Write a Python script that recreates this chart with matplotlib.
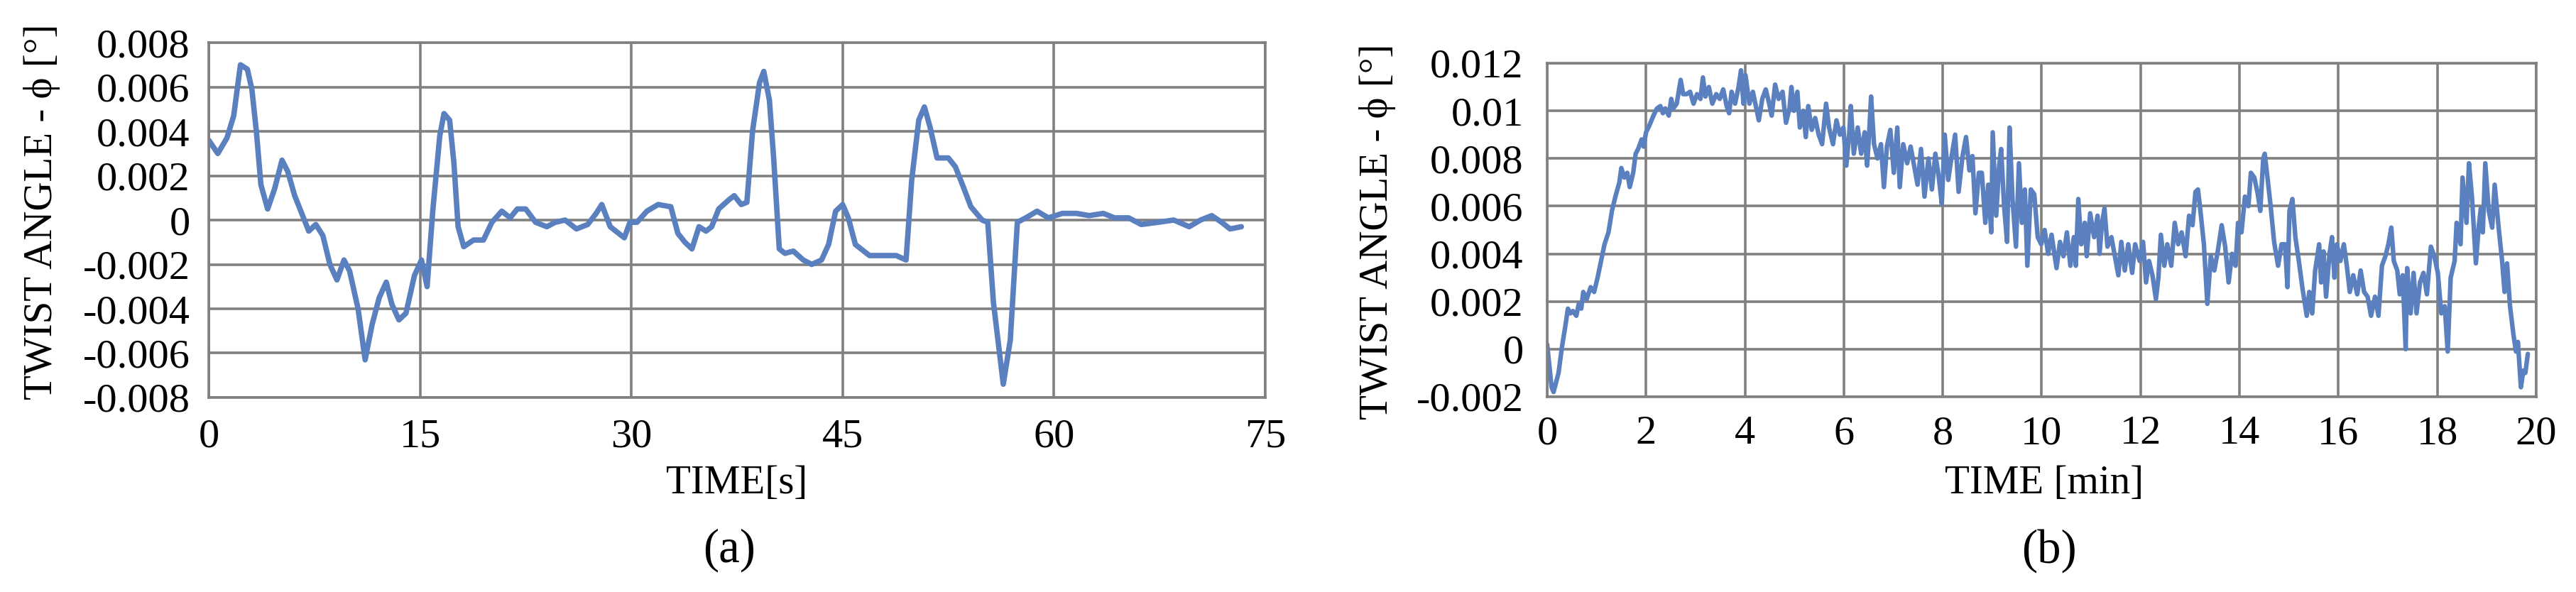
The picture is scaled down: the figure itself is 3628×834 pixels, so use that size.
import numpy as np
import matplotlib.pyplot as plt
import matplotlib

matplotlib.rcParams['font.family'] = ['Liberation Serif', 'DejaVu Serif']

# (a) twist angle vs time [s]
time_a = [0, 0.64, 1.29, 1.77, 2.25, 2.74, 3.06, 3.38, 3.7, 4.18, 4.67, 5.2, 5.6,
          6.1, 6.6, 7.1, 7.6, 8.1, 8.6, 9.1, 9.6, 10.0, 10.6, 11.1, 11.6, 12.1,
          12.6, 13.0, 13.5, 14.0, 14.6, 15.1, 15.5, 15.9, 16.4, 16.7, 17.1, 17.4,
          17.7, 18.1, 18.8, 19.5, 20.1, 20.8, 21.4, 21.9, 22.5, 23.2, 24.0, 24.6,
          25.3, 26.1, 26.9, 27.5, 27.9, 28.5, 29.5, 29.9, 30.4, 31.1, 31.9, 32.8,
          33.3, 33.8, 34.3, 34.8, 35.3, 35.7, 36.2, 36.9, 37.3, 37.8, 38.2, 38.6,
          39.1, 39.4, 39.8, 40.1, 40.5, 40.9, 41.5, 42.2, 42.8, 43.5, 44.0, 44.5,
          45.0, 45.4, 45.9, 46.9, 48.0, 48.8, 49.5, 49.9, 50.4, 50.8, 51.2, 51.7,
          52.5, 53.0, 53.5, 54.1, 54.9, 55.3, 55.7, 56.4, 56.9, 57.4, 58.0, 58.8,
          59.6, 60.6, 61.6, 62.5, 63.5, 64.3, 65.3, 66.2, 67.4, 68.5, 69.6, 70.4,
          71.2, 71.9, 72.5, 73.3]
twist_a = [0.0036, 0.0030, 0.0037, 0.0047, 0.0070, 0.0068, 0.0059, 0.0040, 0.0016,
           0.0005, 0.0014, 0.0027, 0.0022, 0.0011, 0.0003, -0.0005, -0.0002,
           -0.0007, -0.0020, -0.0027, -0.0018, -0.0023, -0.0040, -0.0063, -0.0047,
           -0.0035, -0.0028, -0.0038, -0.0045, -0.0042, -0.0025, -0.0018, -0.0030,
           0.0004, 0.0038, 0.0048, 0.0045, 0.0026, -0.0003, -0.0012, -0.0009,
           -0.0009, -0.0001, 0.0004, 0.0001, 0.0005, 0.0005, -0.0001, -0.0003,
           -0.0001, 0.0, -0.0004, -0.0002, 0.0003, 0.0007, -0.0003, -0.0008,
           -0.0001, -0.0001, 0.0004, 0.0007, 0.0006, -0.0006, -0.0010, -0.0013,
           -0.0003, -0.0005, -0.0003, 0.0005, 0.0009, 0.0011, 0.0007, 0.0008,
           0.0040, 0.0062, 0.0067, 0.0054, 0.0028, -0.0013, -0.0015, -0.0014,
           -0.0018, -0.0020, -0.0018, -0.0011, 0.0004, 0.0007, 0.0001, -0.0011,
           -0.0016, -0.0016, -0.0016, -0.0018, 0.0018, 0.0045, 0.0051, 0.0042,
           0.0028, 0.0028, 0.0024, 0.0016, 0.0006, 0.0, -0.0001, -0.0037, -0.0074,
           -0.0054, -0.0001, 0.0001, 0.0004, 0.0001, 0.0003, 0.0003, 0.0002,
           0.0003, 0.0001, 0.0001, -0.0002, -0.0001, 0.0, -0.0003, 0.0, 0.0002,
           -0.0001, -0.0004, -0.0003]

# (b) twist angle vs time [min]
time_b = [0, 0.04, 0.09, 0.13, 0.18, 0.23, 0.30, 0.37, 0.42, 0.47, 0.52, 0.59, 0.64,
          0.69, 0.73, 0.80, 0.88, 0.95, 1.02, 1.09, 1.16, 1.24, 1.31, 1.38, 1.46,
          1.50, 1.56, 1.62, 1.67, 1.74, 1.79, 1.84, 1.91, 1.95, 2.00, 2.07, 2.15,
          2.22, 2.29, 2.34, 2.39, 2.46, 2.51, 2.55, 2.62, 2.70, 2.75, 2.82, 2.89,
          2.96, 3.03, 3.10, 3.15, 3.20, 3.27, 3.34, 3.42, 3.49, 3.56, 3.63, 3.68,
          3.73, 3.80, 3.87, 3.92, 3.97, 4.01, 4.09, 4.16, 4.23, 4.28, 4.35, 4.42,
          4.49, 4.54, 4.61, 4.68, 4.76, 4.83, 4.90, 4.94, 4.99, 5.06, 5.11, 5.18,
          5.23, 5.28, 5.35, 5.42, 5.49, 5.56, 5.64, 5.70, 5.78, 5.85, 5.92, 5.99,
          6.05, 6.11, 6.14, 6.20, 6.28, 6.35, 6.42, 6.47, 6.51, 6.55, 6.61, 6.68,
          6.75, 6.81, 6.87, 6.94, 7.01, 7.08, 7.13, 7.20, 7.28, 7.35, 7.42, 7.49,
          7.56, 7.63, 7.71, 7.78, 7.85, 7.92, 7.98, 8.04, 8.11, 8.18, 8.25, 8.32,
          8.40, 8.47, 8.54, 8.60, 8.66, 8.73, 8.79, 8.86, 8.92, 8.98, 9.01, 9.08,
          9.14, 9.18, 9.24, 9.30, 9.35, 9.41, 9.48, 9.54, 9.60, 9.66, 9.71, 9.78,
          9.85, 9.92, 9.99, 10.06, 10.13, 10.20, 10.30, 10.37, 10.44, 10.51, 10.58,
          10.65, 10.69, 10.74, 10.80, 10.87, 10.91, 10.98, 11.06, 11.13, 11.17,
          11.22, 11.27, 11.33, 11.41, 11.48, 11.55, 11.61, 11.68, 11.75, 11.83,
          11.89, 11.98, 12.05, 12.11, 12.17, 12.24, 12.31, 12.36, 12.41, 12.48,
          12.54, 12.62, 12.69, 12.76, 12.83, 12.91, 12.98, 13.05, 13.11, 13.16,
          13.21, 13.28, 13.35, 13.42, 13.49, 13.56, 13.64, 13.71, 13.78, 13.85,
          13.92, 13.97, 14.04, 14.11, 14.18, 14.23, 14.30, 14.37, 14.42, 14.48,
          14.51, 14.56, 14.63, 14.70, 14.78, 14.85, 14.92, 14.97, 15.01, 15.07,
          15.13, 15.20, 15.27, 15.36, 15.41, 15.47, 15.53, 15.61, 15.65, 15.70,
          15.75, 15.82, 15.87, 15.92, 15.97, 16.04, 16.11, 16.17, 16.23, 16.30,
          16.38, 16.45, 16.52, 16.59, 16.66, 16.74, 16.81, 16.88, 16.95, 17.01,
          17.07, 17.12, 17.19, 17.24, 17.30, 17.36, 17.39, 17.46, 17.52, 17.58,
          17.65, 17.72, 17.79, 17.87, 17.94, 18.01, 18.08, 18.15, 18.21, 18.27,
          18.35, 18.39, 18.47, 18.51, 18.59, 18.64, 18.70, 18.78, 18.84, 18.88,
          18.92, 18.97, 19.04, 19.11, 19.16, 19.24, 19.31, 19.36, 19.41, 19.47,
          19.54, 19.59, 19.63, 19.69, 19.74, 19.78, 19.83]
twist_b = [0.0002, -0.0006, -0.0016, -0.0018, -0.0014, -0.0010, 0.0001, 0.0010,
           0.0017, 0.0015, 0.0016, 0.0014, 0.0019, 0.0017, 0.0024, 0.0021, 0.0026,
           0.0024, 0.0030, 0.0037, 0.0044, 0.0049, 0.0058, 0.0064, 0.0070, 0.0076,
           0.0072, 0.0074, 0.0068, 0.0074, 0.0082, 0.0084, 0.0088, 0.0085, 0.0091,
           0.0094, 0.0098, 0.0101, 0.0102, 0.0099, 0.0101, 0.0098, 0.0105, 0.0101,
           0.0103, 0.0113, 0.0107, 0.0107, 0.0108, 0.0103, 0.0107, 0.0105, 0.0114,
           0.0106, 0.0110, 0.0103, 0.0107, 0.0105, 0.0109, 0.0102, 0.0099, 0.0108,
           0.0103, 0.0110, 0.0117, 0.0103, 0.0115, 0.0103, 0.0108, 0.0101, 0.0096,
           0.0105, 0.0109, 0.0103, 0.0098, 0.0111, 0.0105, 0.0108, 0.0095, 0.0101,
           0.0110, 0.0100, 0.0108, 0.0093, 0.0100, 0.0089, 0.0102, 0.0092, 0.0097,
           0.0090, 0.0086, 0.0103, 0.0093, 0.0086, 0.0096, 0.0090, 0.0093, 0.0077,
           0.0091, 0.0102, 0.0082, 0.0093, 0.0082, 0.0091, 0.0077, 0.0090, 0.0106,
           0.0086, 0.0080, 0.0086, 0.0068, 0.0085, 0.0092, 0.0074, 0.0093, 0.0068,
           0.0086, 0.0078, 0.0085, 0.0077, 0.0069, 0.0084, 0.0064, 0.0080, 0.0067,
           0.0082, 0.0072, 0.0061, 0.0090, 0.0071, 0.0081, 0.0090, 0.0066, 0.0081,
           0.0089, 0.0075, 0.0081, 0.0057, 0.0074, 0.0074, 0.0053, 0.0069, 0.0049,
           0.0091, 0.0056, 0.0077, 0.0084, 0.0060, 0.0045, 0.0093, 0.0063, 0.0043,
           0.0078, 0.0053, 0.0067, 0.0035, 0.0067, 0.0065, 0.0047, 0.0044, 0.0050,
           0.0040, 0.0048, 0.0034, 0.0045, 0.0039, 0.0049, 0.0035, 0.0047, 0.0035,
           0.0063, 0.0044, 0.0053, 0.0039, 0.0057, 0.0047, 0.0056, 0.0040, 0.0053,
           0.0059, 0.0043, 0.0047, 0.0039, 0.0031, 0.0045, 0.0033, 0.0044, 0.0032,
           0.0044, 0.0037, 0.0045, 0.0028, 0.0037, 0.0031, 0.0021, 0.0030, 0.0048,
           0.0035, 0.0044, 0.0035, 0.0053, 0.0044, 0.0049, 0.0039, 0.0056, 0.0052,
           0.0066, 0.0067, 0.0058, 0.0044, 0.0019, 0.0039, 0.0033, 0.0041, 0.0052,
           0.0043, 0.0028, 0.0040, 0.0035, 0.0053, 0.0049, 0.0064, 0.0060, 0.0074,
           0.0072, 0.0065, 0.0058, 0.0080, 0.0082, 0.0073, 0.0060, 0.0045, 0.0035,
           0.0044, 0.0044, 0.0026, 0.0058, 0.0063, 0.0047, 0.0037, 0.0026, 0.0014,
           0.0024, 0.0015, 0.0033, 0.0044, 0.0028, 0.0041, 0.0022, 0.0040, 0.0047,
           0.0030, 0.0044, 0.0037, 0.0044, 0.0035, 0.0024, 0.0031, 0.0023, 0.0033,
           0.0024, 0.0022, 0.0014, 0.0022, 0.0014, 0.0035, 0.0039, 0.0044, 0.0051,
           0.0037, 0.0033, 0.0023, 0.0031, 0.0000, 0.0034, 0.0015, 0.0032, 0.0015,
           0.0028, 0.0032, 0.0023, 0.0043, 0.0039, 0.0032, 0.0015, 0.0018, -0.0001,
           0.0030, 0.0037, 0.0053, 0.0044, 0.0072, 0.0053, 0.0078, 0.0064, 0.0036,
           0.0052, 0.0059, 0.0049, 0.0078, 0.0058, 0.0051, 0.0069, 0.0051, 0.0037,
           0.0024, 0.0036, 0.0018, 0.0006, -0.0001, 0.0003, -0.0016, -0.0009,
           -0.0010, -0.0002]

xticks_a = [0, 15, 30, 45, 60, 75]
yticks_a = [-0.008, -0.006, -0.004, -0.002, 0, 0.002, 0.004, 0.006, 0.008]
xticks_b = [0, 2, 4, 6, 8, 10, 12, 14, 16, 18, 20]
yticks_b = [-0.002, 0, 0.002, 0.004, 0.006, 0.008, 0.01, 0.012]


def fmt(v):
    if v == 0:
        return '0'
    return ('%.3f' % v).rstrip('0')


line_col = '#5b80bf'
grid_col = '#808080'
tick_fs = 42

fig = plt.figure(figsize=(36.28, 8.34), dpi=100)
ax_a = fig.add_axes([0.08104, 0.32854, 0.41014, 0.5995])
ax_b = fig.add_axes([0.60060, 0.32974, 0.38396, 0.56355])

for ax in (ax_a, ax_b):
    ax.grid(True, color=grid_col, lw=2.6)
    ax.set_axisbelow(True)
    for sp in ax.spines.values():
        sp.set_color(grid_col)
        sp.set_linewidth(2.6)
    ax.tick_params(length=0, labelsize=tick_fs)

ax_a.plot(time_a, twist_a, color=line_col, lw=5.5,
          solid_joinstyle='round', solid_capstyle='round')
ax_a.set_xlim(0, 75)
ax_a.set_ylim(-0.008, 0.008)
ax_a.set_xticks(xticks_a)
ax_a.set_xticklabels([str(t) for t in xticks_a])
ax_a.set_yticks(yticks_a)
ax_a.set_yticklabels([fmt(v) for v in yticks_a])
ax_a.tick_params(axis='y', pad=19)
ax_a.tick_params(axis='x', pad=21)

ax_b.plot(time_b, twist_b, color=line_col, lw=4.6,
          solid_joinstyle='round', solid_capstyle='round')
ax_b.set_xlim(0, 20)
ax_b.set_ylim(-0.002, 0.012)
ax_b.set_xticks(xticks_b)
ax_b.set_xticklabels([str(t) for t in xticks_b])
ax_b.set_yticks(yticks_b)
ax_b.set_yticklabels([fmt(v) for v in yticks_b])
ax_b.tick_params(axis='y', pad=24)
ax_b.tick_params(axis='x', pad=19)

ylab = 'TWIST ANGLE - \u03d5 [\u00b0]'
fig.text(0.0163, 0.6427, ylab, rotation=90, ha='center', va='center', fontsize=41)
fig.text(0.5347, 0.609, ylab, rotation=90, ha='center', va='center', fontsize=41)
fig.text(0.2861, 0.1835, 'TIME[s]', ha='center', va='center', fontsize=41)
fig.text(0.7936, 0.1835, 'TIME [min]', ha='center', va='center', fontsize=41)
fig.text(0.2830, 0.0700, '(a)', ha='center', va='center', fontsize=48)
fig.text(0.7955, 0.0700, '(b)', ha='center', va='center', fontsize=48)

fig.savefig('out.png', dpi=100, facecolor='white')
